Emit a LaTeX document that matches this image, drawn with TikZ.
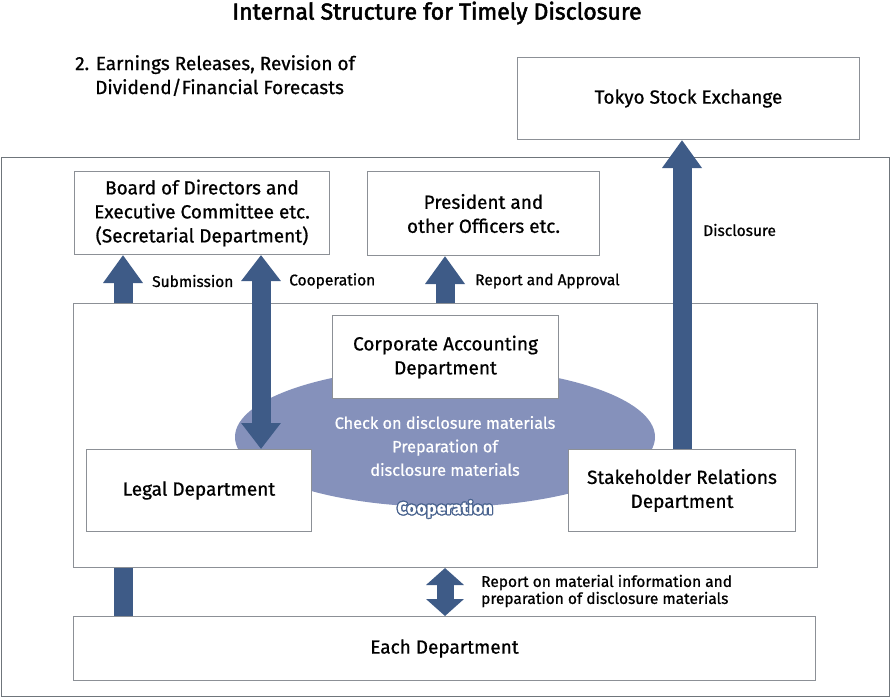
\documentclass[tikz,border=0pt]{standalone}
\usepackage{fontspec}
\setmainfont{Fira Sans}[FakeBold=0.8]
\newfontfamily\titlefont{Fira Sans}[FakeBold=2.2]
\usetikzlibrary{arrows.meta,calc,shapes.geometric}
\definecolor{arr}{HTML}{3E5B87}
\definecolor{ell}{HTML}{8591BB}
\definecolor{frame}{HTML}{8C9096}
\definecolor{oframe}{HTML}{6F757B}
\begin{document}
\begin{tikzpicture}[x=1pt,y=-1pt,
  box/.style={draw=frame, line width=1pt, fill=white, anchor=north west, inner sep=0pt, align=center, font=\fontsize{19}{24}\selectfont},
  lbl/.style={font=\fontsize{15.5}{17}\selectfont, anchor=west, inner sep=0pt, align=left},
  blk/.style={draw=arr, line width=19pt},
  upa/.style={blk, -{Triangle[width=38pt,length=28pt]}},
  dbl/.style={blk, {Triangle[width=38pt,length=26pt]}-{Triangle[width=38pt,length=26pt]}},
  dbs/.style={blk, line width=17pt, {Triangle[width=37pt,length=17pt]}-{Triangle[width=37pt,length=17pt]}},
  etext/.style={text=white, font=\fontsize{16.3}{23.5}\selectfont, align=center, inner sep=0pt},
  cooptext/.style={font=\bfseries\fontsize{17}{18}\selectfont, inner sep=0pt}]
\useasboundingbox (0,0) rectangle (890,697);
% title
\node[font=\titlefont\fontsize{23}{26}\selectfont, inner sep=0pt] (title) at (437,13) {Internal Structure for Timely Disclosure};
\node[font=\fontsize{19}{24}\selectfont, anchor=north west, inner sep=0pt, align=left] (sub) at (75,55) {2. Earnings Releases, Revision of\\\hspace*{20pt}Dividend/Financial Forecasts};
% boxes
\node[box, minimum width=342pt, minimum height=82pt] (tse) at (517,57) {Tokyo Stock Exchange};
\node[draw=oframe, line width=1.2pt, anchor=north west, minimum width=888pt, minimum height=539pt, inner sep=0pt] (outer) at (0.6,157) {};
\node[box, minimum width=255pt, minimum height=83pt] (board) at (74,171) {Board of Directors and\\Executive Committee etc.\\(Secretarial Department)};
\node[box, minimum width=232pt, minimum height=84pt] (pres) at (367,171) {President and\\other Officers etc.};
\node[box, minimum width=744pt, minimum height=264pt] (inner) at (73,303) {};
\node[fill=ell, ellipse, minimum width=420pt, minimum height=140pt, inner sep=0pt] (ell) at (445,437) {};
\node[box, minimum width=226pt, minimum height=83pt] (corp) at (332,315) {Corporate Accounting\\Department};
\node[box, minimum width=225pt, minimum height=82pt] (legal) at (86,449) {Legal Department};
\node[box, minimum width=227pt, minimum height=82pt] (stake) at (568,449) {Stakeholder Relations\\Department};
\node[box, minimum width=742pt, minimum height=64pt] (each) at (73,616) {Each Department};
% ellipse text
\node[etext] (chk) at (445,446) {Check on disclosure materials\\Preparation of\\disclosure materials};
\foreach \dx/\dy in {-1.3/0,1.3/0,0/-1.3,0/1.3,-0.95/-0.95,0.95/0.95,-0.95/0.95,0.95/-0.95}
  \node[cooptext, text=arr!85!ell] at (445+\dx,509+\dy) {Cooperation};
\node[cooptext, text=white] (coop) at (445,509) {Cooperation};
% arrow x positions
\coordinate (xsub) at (123,0);
\coordinate (xcoop) at (261,0);
\coordinate (xrep) at (445,0);
\coordinate (xdis) at (682,0);
% arrows
\draw[upa] (inner.north -| xsub) -- (board.south -| xsub);
\draw[dbl] (board.south -| xcoop) -- (legal.north -| xcoop);
\draw[upa] (inner.north -| xrep) -- (pres.south -| xrep);
\draw[upa] (stake.north -| xdis) -- (tse.south -| xdis);
\draw[blk] (inner.south -| xsub) -- (each.north -| xsub);
\draw[dbs] (inner.south -| xrep) -- (each.north -| xrep);
% labels
\node[lbl] (lsub) at (152,281) {Submission};
\node[lbl] (lcoop) at (289,281) {Cooperation};
\node[lbl] (lrep) at (475,281) {Report and Approval};
\node[lbl] (ldis) at (703,230) {Disclosure};
\node[lbl] (lmat) at (481,591) {Report on material information and\\preparation of disclosure materials};
\end{tikzpicture}
\end{document}
